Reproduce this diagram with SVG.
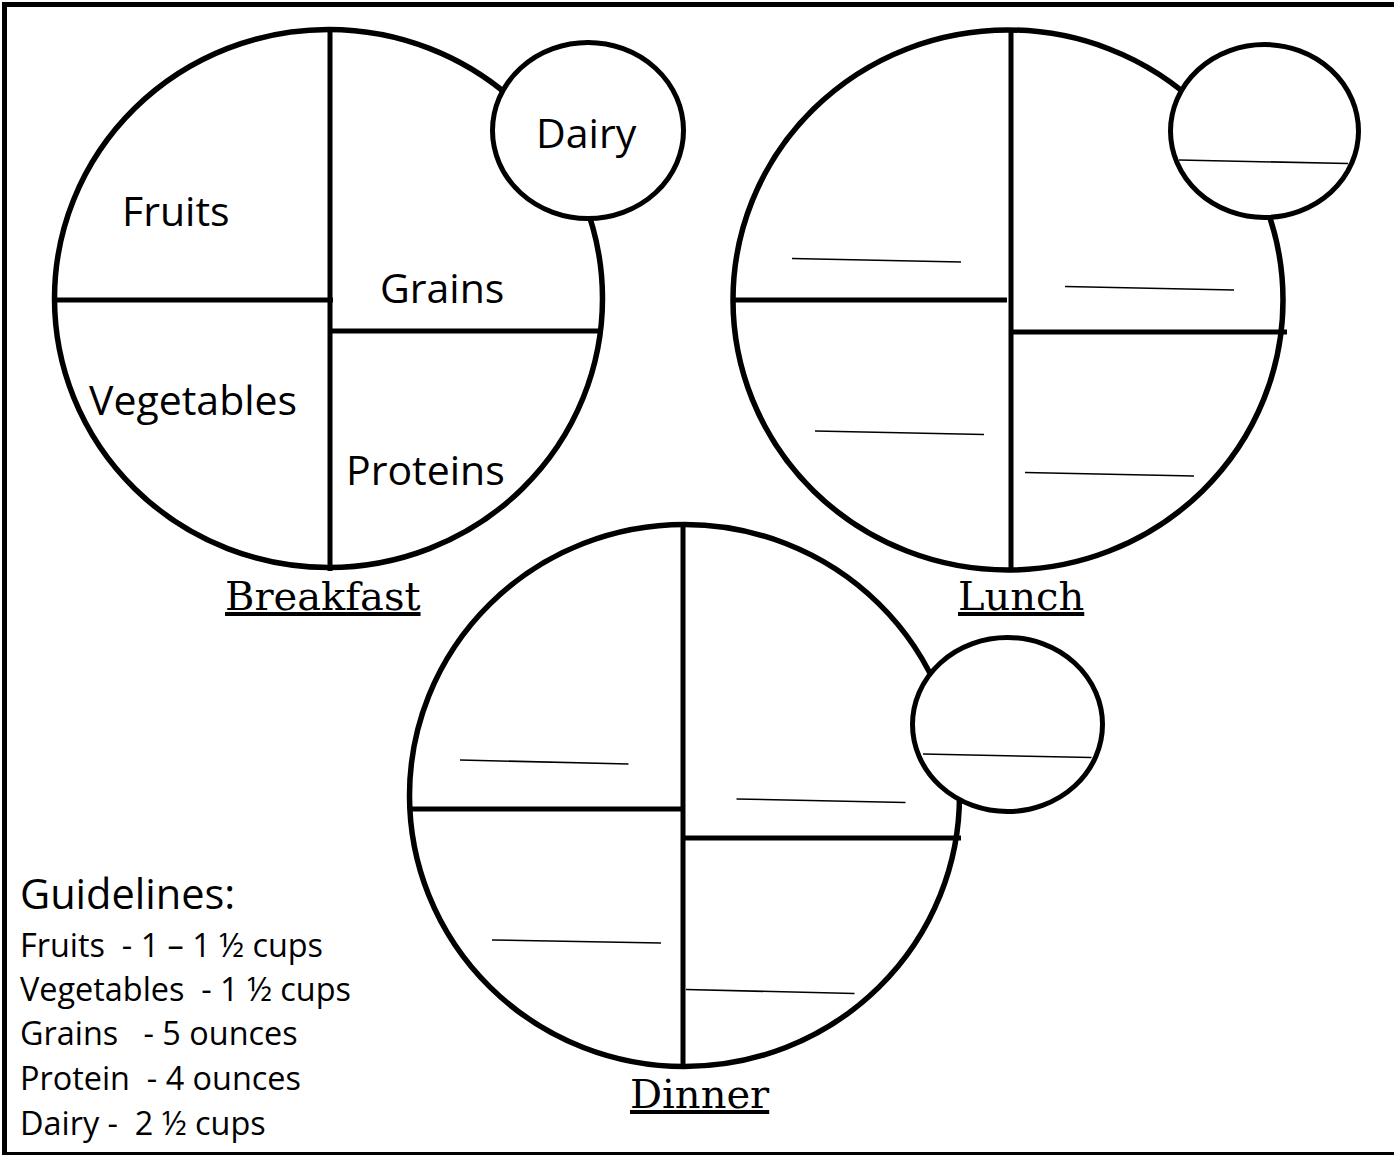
<svg xmlns="http://www.w3.org/2000/svg" width="1394" height="1155" viewBox="0 0 1394 1155">
<style>
.plate{fill:#fff;stroke:#000;stroke-width:5.5}
.cup{fill:#fff;stroke:#000;stroke-width:5}
.div{stroke:#000;stroke-width:5;fill:none}
.blank{stroke:#000;stroke-width:1.6;fill:none}
.lbl{font-family:"Open Sans","Liberation Sans",sans-serif;font-size:41px;fill:#000}
.title{font-family:"DejaVu Serif","Liberation Serif",serif;font-size:40px;fill:#000;text-decoration:underline}
.gl{font-family:"Open Sans","Liberation Sans",sans-serif;font-size:32.4px;fill:#000;white-space:pre}
</style>
<rect x="0" y="0" width="1394" height="1155" fill="#fff"/>
<rect x="4.5" y="4.5" width="1400" height="1150" fill="none" stroke="#000" stroke-width="5"/>

<g id="breakfast">
<ellipse class="plate" cx="328.5" cy="298.5" rx="274" ry="269"/>
<line class="div" x1="330" y1="28" x2="330" y2="571"/>
<line class="div" x1="57" y1="300" x2="333" y2="300"/>
<line class="div" x1="328" y1="331" x2="603" y2="331"/>
<text class="lbl" x="122" y="226">Fruits</text>
<text class="lbl" x="380" y="303">Grains</text>
<text class="lbl" x="89" y="415">Vegetables</text>
<text class="lbl" x="346" y="485">Proteins</text>
<ellipse class="cup" cx="588" cy="130.5" rx="95.5" ry="88"/>
<text class="lbl" x="536" y="148">Dairy</text>
<text class="title" x="225" y="610">Breakfast</text>
</g>

<g id="lunch">
<ellipse class="plate" cx="1008" cy="300" rx="275" ry="270"/>
<line class="div" x1="1011" y1="28" x2="1011" y2="572"/>
<line class="div" x1="733" y1="300" x2="1007" y2="300"/>
<line class="div" x1="1011" y1="332" x2="1287" y2="332"/>
<line class="blank" x1="792" y1="258.5" x2="961" y2="262"/>
<line class="blank" x1="1065" y1="286.5" x2="1234" y2="290"/>
<line class="blank" x1="815" y1="431" x2="984" y2="434.5"/>
<line class="blank" x1="1025" y1="472.5" x2="1194" y2="476"/>
<ellipse class="cup" cx="1264.5" cy="131" rx="94" ry="86.5"/>
<line class="blank" x1="1179" y1="160" x2="1348" y2="163.5"/>
<text class="title" x="958" y="610">Lunch</text>
</g>

<g id="dinner">
<ellipse class="plate" cx="684.5" cy="795.5" rx="275" ry="271"/>
<line class="div" x1="683" y1="524" x2="683" y2="1067"/>
<line class="div" x1="411" y1="809" x2="683" y2="809"/>
<line class="div" x1="683" y1="838" x2="961" y2="838"/>
<line class="blank" x1="460" y1="760" x2="628.5" y2="764"/>
<line class="blank" x1="736.5" y1="799" x2="905.5" y2="802.5"/>
<line class="blank" x1="492" y1="940" x2="661" y2="943"/>
<line class="blank" x1="686" y1="989.5" x2="854.5" y2="993.5"/>
<ellipse class="cup" cx="1007.5" cy="724.5" rx="95" ry="87"/>
<line class="blank" x1="923" y1="754" x2="1091.5" y2="757.5"/>
<text class="title" x="630" y="1108">Dinner</text>
</g>

<g id="guidelines">
<text class="lbl" x="20" y="909" style="font-size:41.5px">Guidelines:</text>
<text class="gl" x="20" y="957" xml:space="preserve">Fruits  - 1 – 1 ½ cups</text>
<text class="gl" x="20" y="1001" xml:space="preserve">Vegetables  - 1 ½ cups</text>
<text class="gl" x="20" y="1045" xml:space="preserve">Grains   - 5 ounces</text>
<text class="gl" x="20" y="1090" xml:space="preserve">Protein  - 4 ounces</text>
<text class="gl" x="20" y="1135" xml:space="preserve">Dairy -  2 ½ cups</text>
</g>
<g id="connectors"/>
</svg>
